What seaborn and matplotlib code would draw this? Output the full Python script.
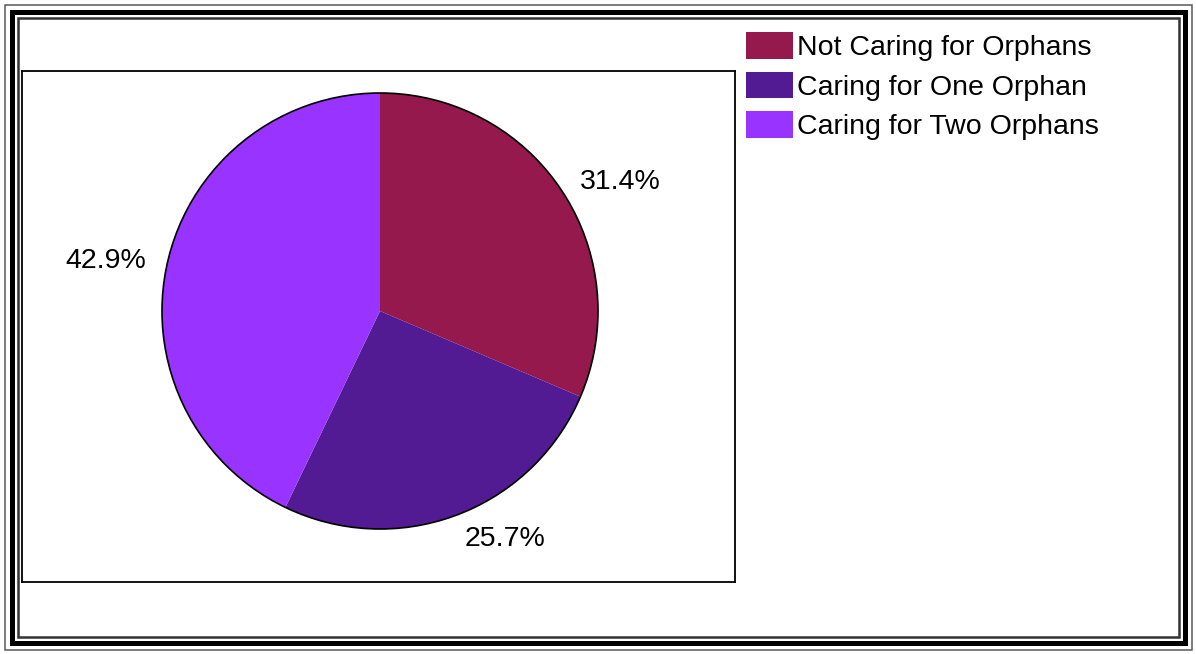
import matplotlib
matplotlib.use("Agg")
import matplotlib.pyplot as plt
from matplotlib.patches import Rectangle, Circle, Patch
import numpy as np
import seaborn as sns

# Household survey: orphans cared for per household
categories = ["Not Caring for Orphans", "Caring for One Orphan", "Caring for Two Orphans"]
households = [11, 9, 15]
colors = ["#95194C", "#531B93", "#9933FF"]

sns.set_style("white")
plt.rcParams["font.family"] = ["Liberation Sans", "DejaVu Sans"]
plt.rcParams["text.color"] = "black"

W, H, DPI = 1196, 654, 100
fig = plt.figure(figsize=(W / DPI, H / DPI), dpi=DPI)
fig.patch.set_facecolor("white")

# Triple-line frame around the whole figure
def frame(inset, lw, color):
    fig.add_artist(Rectangle((inset / W, inset / H), 1 - 2 * inset / W, 1 - 2 * inset / H,
                             transform=fig.transFigure, fill=False, lw=lw * 72 / DPI,
                             edgecolor=color, zorder=10))

frame(4.5, 1.5, "#555555")
frame(11.5, 5.0, "black")
frame(17.5, 2.5, "#333333")

# Plot area box
x0, x1, y0, y1 = 22, 735, 71, 582
ax = fig.add_axes([x0 / W, 1 - y1 / H, (x1 - x0) / W, (y1 - y0) / H])

total = sum(households)
wedges, _ = ax.pie(households, colors=colors, startangle=90, counterclock=False,
                   radius=1.0, frame=True, wedgeprops=dict(edgecolor="none", lw=0))
ax.add_patch(Circle((0, 0), 1.0, fill=False, edgecolor="black", lw=1.2, zorder=5))

# Percentage labels just outside each wedge, aligned away from the pie
for w, v in zip(wedges, households):
    ang = np.deg2rad((w.theta1 + w.theta2) / 2)
    c, s = np.cos(ang), np.sin(ang)
    r = 1.1
    ha = "left" if c > 0 else "right"
    ax.text(r * c, r * s, f"{100 * v / total:.1f}%", ha=ha, va="center_baseline",
            fontsize=20.5, color="black")

# Pie center sits at (380, 311) px with radius 218 px
cx, cy, rad = 380, 311, 218
ax.set_xlim((x0 - cx) / rad, (x1 - cx) / rad)
ax.set_ylim(-(y1 - cy) / rad, (cy - y0) / rad)
ax.set_aspect("auto")
ax.set_xticks([])
ax.set_yticks([])
for sp in ax.spines.values():
    sp.set_visible(True)
    sp.set_color("black")
    sp.set_linewidth(1.3)

handles = [Patch(facecolor=c, edgecolor="none") for c in colors]
leg = fig.legend(handles, categories, loc="upper left", bbox_to_anchor=(746 / W, 1 - 32 / H),
                 frameon=False, fontsize=20.5, handlelength=1.65, handleheight=1.07,
                 handletextpad=0.15, labelspacing=0.37, borderpad=0, borderaxespad=0)
for t in leg.get_texts():
    t.set_color("black")

fig.savefig("out.png", dpi=DPI)
